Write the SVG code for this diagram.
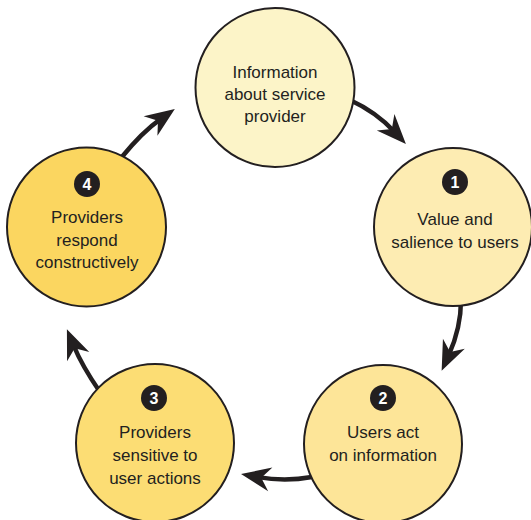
<svg xmlns="http://www.w3.org/2000/svg" width="531" height="520" viewBox="0 0 531 520">
<defs>
<style>
.node{stroke:#231f20;stroke-width:2}
.lbl{font-family:"Liberation Sans",Arial,sans-serif;font-size:17px;fill:#231f20;text-anchor:middle}
.badge{fill:#231f20}
.num{font-family:"Liberation Sans",Arial,sans-serif;font-size:16px;font-weight:bold;fill:#ffffff;text-anchor:middle}
.conn{fill:none;stroke:#231f20;stroke-width:4.5;marker-end:url(#ah)}
</style>
<marker id="ah" markerUnits="userSpaceOnUse" markerWidth="40" markerHeight="40" viewBox="-15 -15 35 30" refX="0" refY="0" orient="auto" overflow="visible">
<path d="M15,0 L-11,-10.5 L-3,0 L-11,10.5 Z" fill="#231f20"/>
</marker>
</defs>
<rect width="531" height="520" fill="#ffffff"/>
<g id="connectors">
<path class="conn" d="M350,100 Q376,112 394.2,131.5"/>
<path class="conn" d="M461,300 Q461,328 448.7,355.2"/>
<path class="conn" d="M312,477 Q285,482 257.9,477.1"/>
<path class="conn" d="M100,392 Q82,366 73.4,345"/>
<path class="conn" d="M121,158 Q142,132 160.8,118.8"/>
</g>
<g id="node-info">
<circle class="node" cx="275" cy="87.5" r="79.5" fill="#fcf4c8"/>
<text class="lbl" x="275" y="78">Information</text>
<text class="lbl" x="275" y="100">about service</text>
<text class="lbl" x="275" y="122">provider</text>
</g>
<g id="node-1">
<circle class="node" cx="453" cy="227" r="79" fill="#fdecb2"/>
<circle class="badge" cx="455" cy="182" r="13"/>
<text class="num" x="455" y="188">1</text>
<text class="lbl" x="455" y="225">Value and</text>
<text class="lbl" x="455" y="248">salience to users</text>
</g>
<g id="node-2">
<circle class="node" cx="383" cy="444" r="79" fill="#fde598"/>
<circle class="badge" cx="383" cy="398" r="13"/>
<text class="num" x="383" y="404">2</text>
<text class="lbl" x="383" y="438">Users act</text>
<text class="lbl" x="383" y="461">on information</text>
</g>
<g id="node-3">
<circle class="node" cx="155" cy="443" r="79" fill="#fcdd74"/>
<circle class="badge" cx="154" cy="398" r="13"/>
<text class="num" x="154" y="404">3</text>
<text class="lbl" x="155" y="438">Providers</text>
<text class="lbl" x="155" y="461">sensitive to</text>
<text class="lbl" x="155" y="484">user actions</text>
</g>
<g id="node-4">
<circle class="node" cx="86.5" cy="227" r="79.5" fill="#fbd660"/>
<circle class="badge" cx="87" cy="184" r="13"/>
<text class="num" x="87" y="190">4</text>
<text class="lbl" x="87" y="223">Providers</text>
<text class="lbl" x="87" y="246">respond</text>
<text class="lbl" x="87" y="268">constructively</text>
</g>
</svg>
